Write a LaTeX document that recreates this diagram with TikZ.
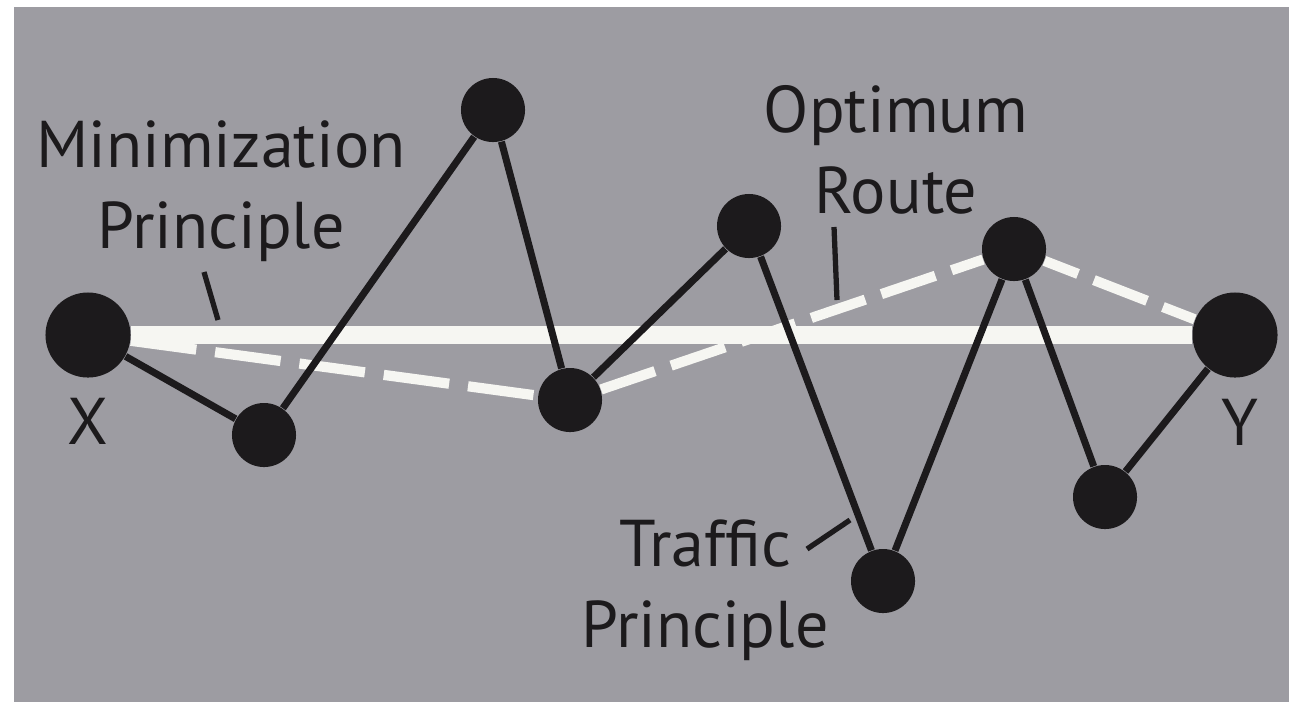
\documentclass[tikz,border=0pt]{standalone}
\usepackage{fontspec}
\setmainfont{PT Sans}
\definecolor{paper}{RGB}{157,156,162}
\definecolor{ink}{RGB}{28,26,28}
\definecolor{chalk}{RGB}{246,246,242}
\tikzset{
  hub/.style={circle, fill=ink, inner sep=0pt, minimum size=0.85cm},
  town/.style={circle, fill=ink, inner sep=0pt, minimum size=0.64cm},
  words/.style={font=\fontsize{18.8}{22.8}\selectfont, text=ink},
  tag/.style={words, align=center, anchor=base},
  link/.style={ink, line width=2pt},
  pointer/.style={ink, line width=1.5pt},
  direct/.style={chalk, line width=5.2pt},
  optimum/.style={chalk, line width=2.9pt}
}
\begin{document}
\begin{tikzpicture}[x=0.01cm, y=-0.01cm]
                  \useasboundingbox (0,0) rectangle (1289,702);
                  \fill[white] (0,0) rectangle (1289,702);
                  \fill[paper] (14,7) rectangle (1289,702);

                  \node[hub, label={[words, label distance=0.08cm]-90:X}] (X) at (88,335) {};
                  \node[town] (n1) at (264,435) {};
                  \node[town] (n2) at (493,110) {};
                  \node[town] (n3) at (570,400) {};
                  \node[town] (n4) at (749,226) {};
                  \node[town] (n5) at (883,581) {};
                  \node[town] (n6) at (1014,249) {};
                  \node[town] (n7) at (1105,497) {};
                  \node[hub, label={[words, label distance=0.09cm, xshift=0.05cm]-90:Y}] (Y) at (1235,335) {};

                  \draw[direct] (X) -- (Y);
                  \draw[optimum, dash pattern=on 0.66cm off 0.19cm] (X) -- (n3);
                  \draw[optimum, dash pattern=on 0.57cm off 0.17cm] (n3) -- (n6);
                  \draw[optimum, dash pattern=on 0.57cm off 0.17cm, dash phase=0.21cm] (n6) -- (Y);

                  \draw[link] (X) -- (n1);
                  \draw[link] (n1) -- (n2);
                  \draw[link] (n2) -- (n3);
                  \draw[link] (n3) -- (n4);
                  \draw[link] (n4) -- (n5);
                  \draw[link] (n5) -- (n6);
                  \draw[link] (n6) -- (n7);
                  \draw[link] (n7) -- (Y);

                  % base sits on the last line
                  \node[tag] (min) at (221,248) {Minimization\\Principle};
                  \node[tag] (opt) at (896,213) {Optimum\\Route};
                  \node[tag] (traf) at (705,647) {Traffic\\Principle};

                  \coordinate (min-a) at (204,272);
                  \coordinate (min-b) at (218,320);
                  \coordinate (opt-a) at (834,227);
                  \coordinate (opt-b) at (837,300);
                  \coordinate (traf-a) at (807,549);
                  \coordinate (traf-b) at (850,520);
                  \draw[pointer] (min-a) -- (min-b);
                  \draw[pointer] (opt-a) -- (opt-b);
                  \draw[pointer] (traf-a) -- (traf-b);
                \end{tikzpicture}
\end{document}
